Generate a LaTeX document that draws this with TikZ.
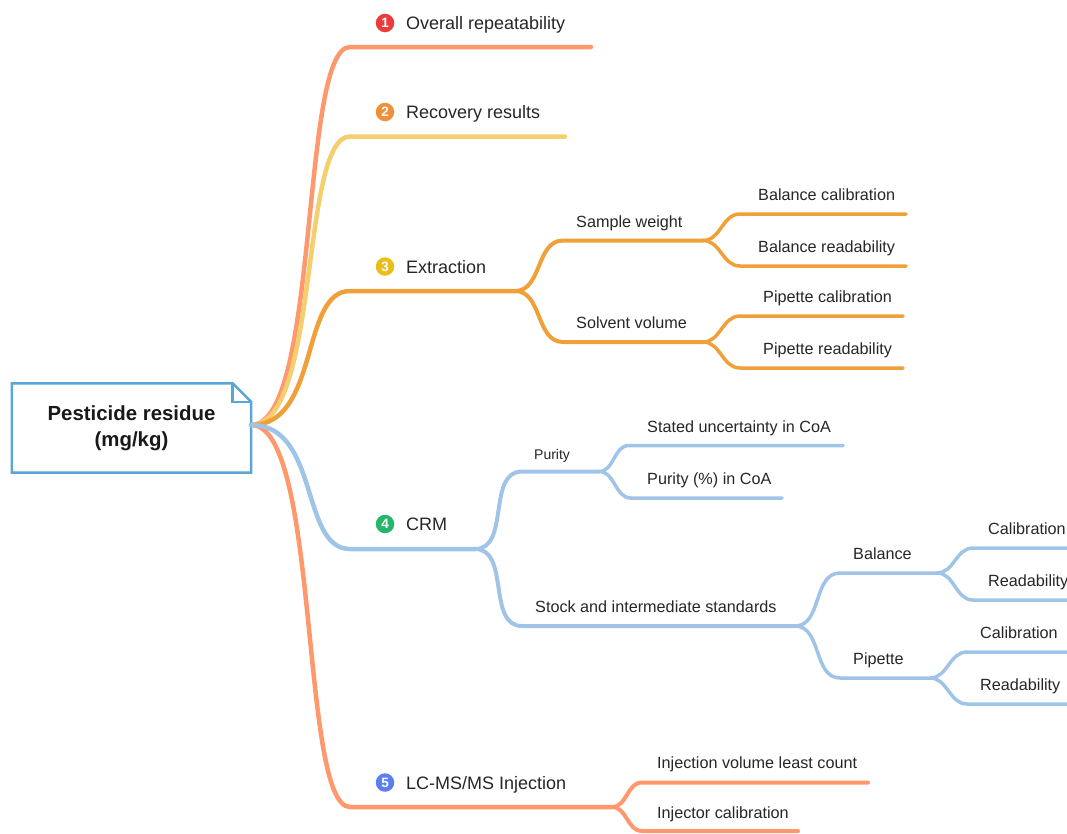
\documentclass[tikz,border=0pt]{standalone}
\usepackage{fontspec}
\setmainfont{Liberation Sans}
\usetikzlibrary{backgrounds}
\definecolor{cSal}{RGB}{255,152,108}
\definecolor{cYel}{RGB}{245,206,110}
\definecolor{cOra}{RGB}{239,160,56}
\definecolor{cBlu}{RGB}{160,196,232}
\definecolor{cRoot}{RGB}{90,167,215}
\definecolor{cTxt}{RGB}{38,38,38}
\definecolor{iRed}{RGB}{235,59,59}
\definecolor{iOra}{RGB}{240,145,58}
\definecolor{iYel}{RGB}{233,190,26}
\definecolor{iGrn}{RGB}{38,181,109}
\definecolor{iBlu}{RGB}{91,127,240}
\begin{document}
\begin{tikzpicture}[x=1pt,y=-1pt,
  lvA/.style={line width=4.5pt,line cap=round},
  lvB/.style={line width=4pt,line cap=round},
  lvC/.style={line width=3.5pt,line cap=round},
  tA/.style={anchor=base west,inner sep=0pt,text=cTxt,font=\fontsize{18}{20}\selectfont},
  tB/.style={anchor=base west,inner sep=0pt,text=cTxt,font=\fontsize{16.2}{18}\selectfont},
  tS/.style={anchor=base west,inner sep=0pt,text=cTxt,font=\fontsize{14}{16}\selectfont},
  badge/.style={circle,inner sep=0pt,minimum size=18.5pt,text=white,font=\fontsize{13.5}{13.5}\selectfont\bfseries},
  fk/.style={out=0,in=180},
  rootbox/.style={inner sep=0pt,minimum width=239pt,minimum height=89pt,align=center,text=black!90,font=\fontsize{20.4}{26}\selectfont\bfseries},
  rootline/.style={draw=cRoot,line width=2.5pt,line join=miter}
]
\useasboundingbox (0,0) rectangle (1067,833);

% ---------- root ----------
\node[rootbox] (root) at (131.5,428) {Pesticide residue\\(mg/kg)};
\begin{pgfonlayer}{background}
  \draw[rootline,fill=white] (root.north west) -- ([xshift=-18.5pt]root.north east)
     -- ([yshift=-18.5pt]root.north east) -- (root.south east) -- (root.south west) -- cycle;
  \draw[rootline] ([xshift=-18.5pt]root.north east) -- ([xshift=-18.5pt,yshift=-18.5pt]root.north east)
     -- ([yshift=-18.5pt]root.north east);
\end{pgfonlayer}
\coordinate (r0) at ([yshift=3pt]root.east);

% ---------- coordinates ----------
\coordinate (a1) at (350,47);    \coordinate (e1) at (591,47);
\coordinate (a2) at (350,136.5); \coordinate (e2) at (565,136.5);
\coordinate (a3) at (350,291);   \coordinate (f3) at (515,291);
\coordinate (a4) at (350,549);   \coordinate (f4) at (475,549);
\coordinate (a5) at (350,807);   \coordinate (f5) at (612,807);

% extraction
\coordinate (sw0) at (563,240.5); \coordinate (sw1) at (703,240.5);
\coordinate (sv0) at (563,342);   \coordinate (sv1) at (703,342);
\coordinate (bc0) at (740,214);   \coordinate (bc1) at (906,214);
\coordinate (br0) at (740,266);   \coordinate (br1) at (906,266);
\coordinate (pc0) at (740,316);   \coordinate (pc1) at (903,316);
\coordinate (pr0) at (740,368);   \coordinate (pr1) at (903,368);
% CRM
\coordinate (pu0) at (522,471.5); \coordinate (pu1) at (599,471.5);
\coordinate (st0) at (522,626);   \coordinate (st1) at (795,626);
\coordinate (su0) at (629,445.5); \coordinate (su1) at (843,445.5);
\coordinate (pp0) at (631,498);   \coordinate (pp1) at (782,498);
\coordinate (ba0) at (840,573);   \coordinate (ba1) at (937,573);
\coordinate (pi0) at (840,678);   \coordinate (pi1) at (930,678);
\coordinate (bk0) at (973,548);   \coordinate (bk1) at (1075,548);
\coordinate (bq0) at (973,600);   \coordinate (bq1) at (1075,600);
\coordinate (pk0) at (967,652);   \coordinate (pk1) at (1075,652);
\coordinate (pq0) at (967,704);   \coordinate (pq1) at (1075,704);
% LC
\coordinate (iv0) at (642,782.5); \coordinate (iv1) at (868,782.5);
\coordinate (ic0) at (642,831);   \coordinate (ic1) at (798,831);

% ---------- level-1 branches ----------
\draw[lvA,cSal] (r0) .. controls (320,425) and (300,47) .. (a1) -- (e1);
\draw[lvA,cYel] (r0) .. controls (320,425) and (300,136.5) .. (a2) -- (e2);
\draw[lvA,cOra] (r0) .. controls (320,425) and (300,291) .. (a3) -- (f3);
\draw[lvA,cSal] (r0) .. controls (320,425) and (300,807) .. (a5) -- (f5);
\draw[lvA,cBlu] (r0) .. controls (320,425) and (300,549) .. (a4) -- (f4);

% ---------- extraction subtree ----------
\draw[lvB,cOra] (f3) to[fk] (sw0) -- (sw1);
\draw[lvB,cOra] (f3) to[fk] (sv0) -- (sv1);
\draw[lvC,cOra] (sw1) to[fk] (bc0) -- (bc1);
\draw[lvC,cOra] (sw1) to[fk] (br0) -- (br1);
\draw[lvC,cOra] (sv1) to[fk] (pc0) -- (pc1);
\draw[lvC,cOra] (sv1) to[fk] (pr0) -- (pr1);

% ---------- CRM subtree ----------
\draw[lvB,cBlu] (f4) to[fk] (pu0) -- (pu1);
\draw[lvB,cBlu] (f4) to[fk] (st0) -- (st1);
\draw[lvC,cBlu] (pu1) to[fk] (su0) -- (su1);
\draw[lvC,cBlu] (pu1) to[fk] (pp0) -- (pp1);
\draw[lvC,cBlu] (st1) to[fk] (ba0) -- (ba1);
\draw[lvC,cBlu] (st1) to[fk] (pi0) -- (pi1);
\draw[lvC,cBlu] (ba1) to[fk] (bk0) -- (bk1);
\draw[lvC,cBlu] (ba1) to[fk] (bq0) -- (bq1);
\draw[lvC,cBlu] (pi1) to[fk] (pk0) -- (pk1);
\draw[lvC,cBlu] (pi1) to[fk] (pq0) -- (pq1);

% ---------- LC subtree ----------
\draw[lvB,cSal] (f5) to[fk] (iv0) -- (iv1);
\draw[lvB,cSal] (f5) to[fk] (ic0) -- (ic1);

% ---------- level-1 labels ----------
\node[badge,fill=iRed] (n1) at (385,23) {1};
\node[tA] (l1) at (406,29.5) {Overall repeatability};
\node[badge,fill=iOra] (n2) at (385,112) {2};
\node[tA] (l2) at (406,118.5) {Recovery results};
\node[badge,fill=iYel] (n3) at (385,266.5) {3};
\node[tA] (l3) at (406,273) {Extraction};
\node[badge,fill=iGrn] (n4) at (385,524) {4};
\node[tA] (l4) at (406,530.5) {CRM};
\node[badge,fill=iBlu] (n5) at (385,782.5) {5};
\node[tA] (l5) at (406,789) {LC-MS/MS Injection};

% ---------- sub labels ----------
\node[tB] (sw) at (576,227) {Sample weight};
\node[tB] (sv) at (576,328.5) {Solvent volume};
\node[tB] (bc) at (758,200.5) {Balance calibration};
\node[tB] (br) at (758,252.5) {Balance readability};
\node[tB] (pc) at (763,302.5) {Pipette calibration};
\node[tB] (pr) at (763,354.5) {Pipette readability};

\node[tS] (pu) at (534,459) {Purity};
\node[tB] (su) at (647,432) {Stated uncertainty in CoA};
\node[tB] (pp) at (647,484.5) {Purity (\%) in CoA};
\node[tB] (st) at (535,612.5) {Stock and intermediate standards};
\node[tB] (ba) at (853,559.5) {Balance};
\node[tB] (pi) at (853,664) {Pipette};
\node[tB] (bk) at (988,534.5) {Calibration};
\node[tB] (bq) at (988,586.5) {Readability};
\node[tB] (pk) at (980,638.5) {Calibration};
\node[tB] (pq) at (980,690) {Readability};

\node[tB] (iv) at (657,768.5) {Injection volume least count};
\node[tB] (ic) at (657,818.5) {Injector calibration};
\end{tikzpicture}
\end{document}
